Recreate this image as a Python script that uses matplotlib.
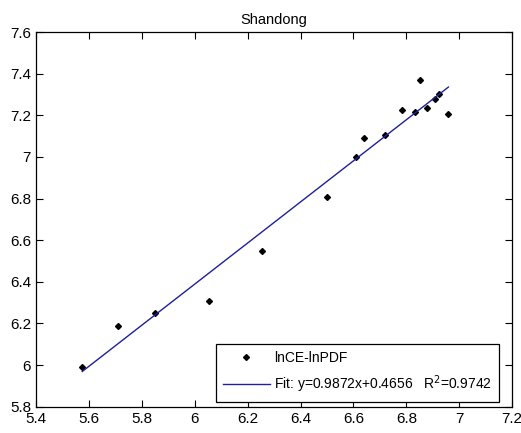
import matplotlib
matplotlib.use("Agg")
import matplotlib.pyplot as plt
import numpy as np

plt.rcParams['font.family'] = ['Liberation Sans', 'DejaVu Sans']

title = "Shandong"
x_vals = [5.575, 5.711, 5.851, 6.055, 6.254, 6.50, 6.611, 6.641, 6.72, 6.782,
          6.831, 6.851, 6.88, 6.909, 6.922, 6.959]
y_vals = [5.992, 6.189, 6.249, 6.306, 6.548, 6.806, 7.001, 7.091, 7.106, 7.227,
          7.217, 7.369, 7.236, 7.279, 7.302, 7.206]
fit_slope = 0.9872
fit_intercept = 0.4656
fit_r2 = 0.9742
x_ticks = [5.4, 5.6, 5.8, 6, 6.2, 6.4, 6.6, 6.8, 7, 7.2]
x_tick_labels = ["5.4", "5.6", "5.8", "6", "6.2", "6.4", "6.6", "6.8", "7", "7.2"]
y_ticks = [5.8, 6, 6.2, 6.4, 6.6, 6.8, 7, 7.2, 7.4, 7.6]
y_tick_labels = ["5.8", "6", "6.2", "6.4", "6.6", "6.8", "7", "7.2", "7.4", "7.6"]

fig = plt.figure(figsize=(5.21, 4.33), dpi=100)
ax = fig.add_axes([0.069, 0.0607, 0.914, 0.8653])

ax.plot(x_vals, y_vals, linestyle='none', marker='D', markersize=3.0,
        color='black', label='lnCE-lnPDF')
xf = np.array([min(x_vals), max(x_vals)])
ax.plot(xf, fit_slope * xf + fit_intercept, color='#1f1f9a', linewidth=1.0,
        label=f'Fit: y={fit_slope}x+{fit_intercept}   R$^2$={fit_r2}')

ax.set_xlim(5.4, 7.2)
ax.set_ylim(5.8, 7.6)
ax.set_xticks(x_ticks)
ax.set_xticklabels(x_tick_labels)
ax.set_yticks(y_ticks)
ax.set_yticklabels(y_tick_labels)
ax.tick_params(direction='in', top=True, right=True, labelsize=11, length=5, width=0.8)
for s in ax.spines.values():
    s.set_linewidth(0.9)

ax.set_title(title, fontsize=10.5, pad=6)

leg = ax.legend(loc='lower right', bbox_to_anchor=(0.973, 0.013), fontsize=10,
                frameon=True, fancybox=False, edgecolor='black', framealpha=1,
                handlelength=3.4, borderaxespad=0, borderpad=0.5, labelspacing=0.6,
                handletextpad=0.3)
leg.get_frame().set_linewidth(0.9)

fig.savefig("out.png", dpi=100)
